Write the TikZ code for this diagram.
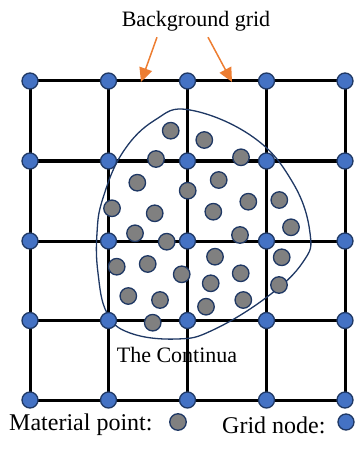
\documentclass[tikz,border=0pt]{standalone}
\usepackage{fontspec}
\setmainfont{Liberation Serif}
\usetikzlibrary{arrows.meta,backgrounds}
\definecolor{gridblue}{HTML}{4472C4}
\definecolor{edgeblue}{HTML}{1F3864}
\definecolor{matgray}{HTML}{808080}
\definecolor{arrorange}{HTML}{ED7D31}

\begin{document}
\begin{tikzpicture}[x=1pt, y=-1pt,
  gnode/.style={circle, draw=edgeblue, line width=1.3pt, fill=gridblue, minimum size=16pt, inner sep=0pt},
  mpoint/.style={circle, draw=edgeblue, line width=1.3pt, fill=matgray, minimum size=16.5pt, inner sep=0pt},
  bar/.style={line width=3pt, black},
  pointer/.style={draw=arrorange, line width=1.5pt, -{Triangle[length=14pt,width=13pt]}},
  lbl/.style={font=\fontsize{22}{26}\selectfont, inner sep=0pt},
  keylbl/.style={font=\fontsize{24}{28}\selectfont, inner sep=0pt, anchor=west}
]
  \useasboundingbox (0,0) rectangle (356,457);

  % grid nodes
  \foreach \i/\x in {0/30,1/108.5,2/187.5,3/266.5,4/345}
    \foreach \j/\y in {0/81,1/161,2/241,3/320.5,4/400}
      \node[gnode] (g\i\j) at (\x,\y) {};

  % grid lines and the continua outline, behind the nodes
  \begin{scope}[on background layer]
    \foreach \k in {0,...,4} {
      \draw[bar] (g0\k.center) -- (g4\k.center);
      \draw[bar] (g\k0.center) -- (g\k4.center);
    }
    \draw[edgeblue, line width=1.3pt] plot[smooth cycle, tension=0.7] coordinates {
      (190,110) (253,137) (293,183) (310,233) (303,262) (267,297)
      (213,330) (177,339) (130,333) (107,313) (98,273) (97,233)
      (103,198) (123,152) (155,120)};
  \end{scope}

  % material points
  \foreach \x/\y [count=\n] in {170.7/130.7, 204.3/140, 156/159, 241/157.3,
      137.3/182.7, 187.7/190.7, 218.7/180, 112/208.3, 154.7/213.3, 213.3/211.7,
      248.3/201.7, 279.3/200, 291/227.3, 135/233.3, 166.7/241.7, 240/235,
      116.7/266.7, 147.7/264, 215/256.7, 181.7/274.3, 240.7/273.3, 281.7/257.3,
      210.7/283.3, 128.3/296, 160/300, 206/306.7, 243.3/300, 279/285, 152.7/322.7}
    \node[mpoint] (m\n) at (\x,\y) {};

  % labels
  \node[lbl] (bglabel) at (196,21) {Background grid};
  \coordinate (hit1) at (141,82);
  \coordinate (hit2) at (232,82);
  \draw[pointer] ([xshift=-39pt, yshift=-6pt]bglabel.south) -- (hit1);
  \draw[pointer] ([xshift=12pt, yshift=-6pt]bglabel.south) -- (hit2);

  \node[lbl] (contlabel) at (177,355) {The Continua};

  % legend
  \node[keylbl] (mplabel) at (9,425) {Material point:};
  \node[mpoint] (mpkey) at (178,422) {};
  \node[keylbl] (gnlabel) at (222,425) {Grid node:};
  \node[gnode] (gnkey) at (346,422) {};
\end{tikzpicture}
\end{document}
